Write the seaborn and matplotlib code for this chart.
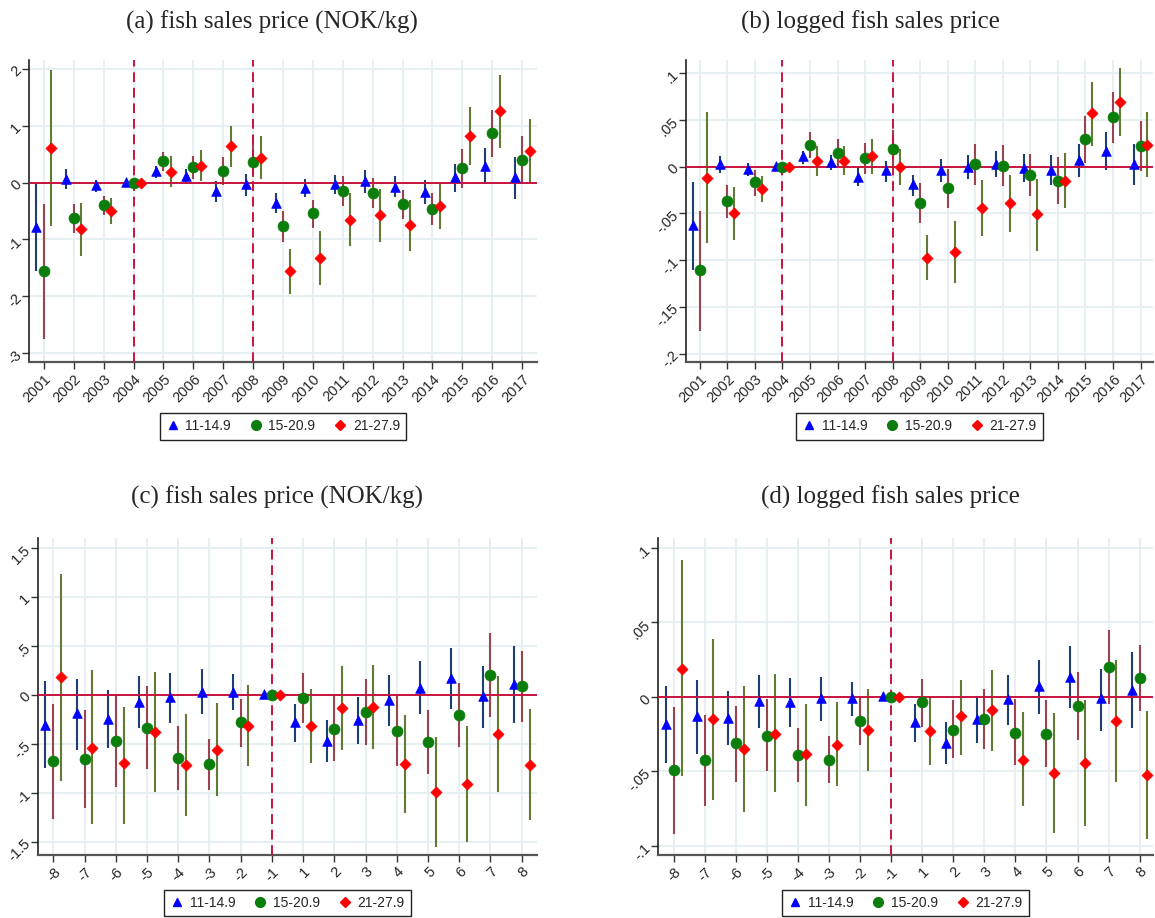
import numpy as np
import pandas as pd
import seaborn as sns
import matplotlib
matplotlib.use("Agg")
import matplotlib.pyplot as plt
from matplotlib.lines import Line2D

nan = np.nan

# ---------------- data ----------------
years = list(range(2001, 2018))
event_labels = ["-8", "-7", "-6", "-5", "-4", "-3", "-2", "-1", "1", "2", "3", "4", "5", "6", "7", "8"]
series_names = ["11-14.9", "15-20.9", "21-27.9"]

# (a) fish sales price (NOK/kg), by year
a_tri = [-0.78, 0.07, -0.05, 0.01, 0.20, 0.11, -0.15, -0.03, -0.36, -0.09, -0.02, 0.03, -0.08, -0.16, 0.09, 0.29, 0.09]
a_tri_lo = [-1.55, -0.12, -0.16, nan, 0.08, -0.02, -0.34, -0.23, -0.53, -0.26, -0.21, -0.18, -0.26, -0.37, -0.16, -0.02, -0.29]
a_tri_hi = [-0.03, 0.23, 0.05, nan, 0.29, 0.24, 0.03, 0.15, -0.19, 0.07, 0.14, 0.22, 0.11, 0.05, 0.32, 0.61, 0.45]
a_cir = [-1.55, -0.63, -0.40, 0.0, 0.37, 0.27, 0.20, 0.36, -0.77, -0.54, -0.15, -0.18, -0.38, -0.46, 0.25, 0.87, 0.40]
a_cir_lo = [-2.74, -0.88, -0.57, nan, 0.20, 0.07, -0.04, 0.10, -1.04, -0.79, -0.42, -0.44, -0.64, -0.74, -0.09, 0.45, -0.02]
a_cir_hi = [-0.37, -0.38, -0.23, nan, 0.54, 0.47, 0.45, 0.67, -0.50, -0.30, 0.11, 0.08, -0.13, -0.18, 0.58, 1.28, 0.82]
a_dia = [0.60, -0.82, -0.50, 0.0, 0.19, 0.29, 0.64, 0.43, -1.56, -1.32, -0.65, -0.57, -0.75, -0.41, 0.82, 1.25, 0.55]
a_dia_lo = [-0.77, -1.29, -0.72, nan, -0.08, 0.03, 0.27, 0.06, -1.96, -1.79, -1.11, -1.04, -1.20, -0.82, 0.31, 0.61, -0.02]
a_dia_hi = [1.97, -0.36, -0.27, nan, 0.46, 0.57, 1.00, 0.81, -1.17, -0.85, -0.19, -0.12, -0.31, 0.00, 1.32, 1.88, 1.11]

# (b) logged fish sales price, by year
b_tri = [-0.063, 0.003, -0.0025, 0.0007, 0.011, 0.005, -0.011, -0.004, -0.019, -0.004, 0.0, 0.003, -0.001, -0.0036, 0.007, 0.017, 0.0025]
b_tri_lo = [-0.111, -0.007, -0.010, nan, 0.003, -0.004, -0.021, -0.016, -0.031, -0.017, -0.013, -0.011, -0.016, -0.020, -0.011, -0.0036, -0.020]
b_tri_hi = [-0.016, 0.011, 0.004, nan, 0.017, 0.012, 0.0, 0.006, -0.009, 0.008, 0.0125, 0.017, 0.0136, 0.0125, 0.024, 0.037, 0.024]
b_cir = [-0.111, -0.037, -0.017, 0.0, 0.023, 0.015, 0.009, 0.019, -0.039, -0.023, 0.0025, 0.001, -0.009, -0.015, 0.029, 0.053, 0.022]
b_cir_lo = [-0.176, -0.055, -0.031, nan, 0.009, 0.0, -0.008, 0.0, -0.060, -0.044, -0.020, -0.021, -0.031, -0.040, 0.0036, 0.025, -0.005]
b_cir_hi = [-0.047, -0.020, -0.004, nan, 0.037, 0.030, 0.025, 0.039, -0.018, -0.0025, 0.024, 0.023, 0.0136, 0.010, 0.054, 0.080, 0.049]
b_dia = [-0.012, -0.050, -0.024, 0.0, 0.006, 0.006, 0.011, 0.0, -0.098, -0.091, -0.044, -0.039, -0.051, -0.015, 0.057, 0.069, 0.023]
b_dia_lo = [-0.082, -0.079, -0.038, nan, -0.010, -0.009, -0.008, -0.020, -0.121, -0.124, -0.074, -0.070, -0.090, -0.044, 0.022, 0.033, -0.011]
b_dia_hi = [0.058, -0.022, -0.010, nan, 0.022, 0.022, 0.030, 0.019, -0.073, -0.058, -0.014, -0.009, -0.0136, 0.014, 0.091, 0.105, 0.058]

# (c) fish sales price (NOK/kg), event time
c_tri = [-0.31, -0.19, -0.245, -0.075, -0.024, 0.027, 0.027, 0.005, -0.28, -0.47, -0.255, -0.058, 0.071, 0.173, -0.017, 0.105]
c_tri_lo = [-0.75, -0.56, -0.54, -0.34, -0.29, -0.20, -0.16, nan, -0.48, -0.69, -0.50, -0.323, -0.20, -0.143, -0.34, -0.29]
c_tri_hi = [0.14, 0.16, 0.044, 0.19, 0.22, 0.26, 0.21, nan, -0.09, -0.255, -0.024, 0.197, 0.34, 0.48, 0.296, 0.497]
c_cir = [-0.68, -0.66, -0.47, -0.34, -0.65, -0.71, -0.28, 0.0, -0.034, -0.35, -0.177, -0.37, -0.486, -0.204, 0.204, 0.088]
c_cir_lo = [-1.27, -1.16, -0.94, -0.76, -0.97, -0.97, -0.53, nan, -0.29, -0.68, -0.517, -0.73, -0.81, -0.534, -0.228, -0.28]
c_cir_hi = [-0.09, -0.16, 0.0, 0.085, -0.32, -0.45, -0.04, nan, 0.22, 0.0, 0.163, 0.0, -0.16, 0.12, 0.633, 0.45]
c_dia = [0.18, -0.54, -0.70, -0.38, -0.72, -0.56, -0.32, 0.0, -0.32, -0.136, -0.126, -0.71, -0.99, -0.915, -0.40, -0.714]
c_dia_lo = [-0.88, -1.32, -1.32, -0.99, -1.24, -1.03, -0.73, nan, -0.70, -0.56, -0.554, -1.21, -1.55, -1.50, -0.99, -1.28]
c_dia_hi = [1.23, 0.25, -0.13, 0.23, -0.20, -0.085, 0.095, nan, 0.054, 0.29, 0.306, -0.21, -0.43, -0.323, 0.194, -0.143]

# (d) logged fish sales price, event time
d_tri = [-0.018, -0.013, -0.014, -0.003, -0.0034, -0.001, -0.001, 0.0007, -0.017, -0.031, -0.015, -0.0016, 0.007, 0.0134, -0.001, 0.0045]
d_tri_lo = [-0.044, -0.038, -0.032, -0.021, -0.020, -0.016, -0.013, nan, -0.030, -0.045, -0.031, -0.019, -0.0116, -0.0074, -0.023, -0.021]
d_tri_hi = [0.007, 0.0116, 0.004, 0.0145, 0.0127, 0.013, 0.010, nan, -0.0045, -0.017, 0.0005, 0.0145, 0.025, 0.034, 0.019, 0.030]
d_cir = [-0.049, -0.042, -0.031, -0.026, -0.039, -0.042, -0.016, 0.0, -0.0034, -0.022, -0.015, -0.024, -0.025, -0.006, 0.020, 0.0125]
d_cir_lo = [-0.092, -0.073, -0.057, -0.050, -0.057, -0.058, -0.032, nan, -0.020, -0.041, -0.035, -0.046, -0.047, -0.029, -0.0045, -0.0096]
d_cir_hi = [-0.0067, -0.012, -0.006, -0.0016, -0.021, -0.026, 0.0, nan, 0.012, -0.002, 0.005, -0.0016, -0.002, 0.0165, 0.045, 0.0346]
d_dia = [0.019, -0.015, -0.035, -0.025, -0.038, -0.032, -0.022, 0.0, -0.023, -0.013, -0.009, -0.042, -0.051, -0.044, -0.016, -0.0525]
d_dia_lo = [-0.053, -0.069, -0.077, -0.064, -0.073, -0.060, -0.050, nan, -0.046, -0.039, -0.036, -0.073, -0.091, -0.0865, -0.057, -0.095]
d_dia_hi = [0.092, 0.039, 0.007, 0.015, -0.0045, -0.0034, 0.005, nan, 0.0, 0.0116, 0.018, -0.010, -0.011, -0.0018, 0.0246, -0.0096]

a_yticks = [2, 1, 0, -1, -2, -3]
a_ylabels = ["2", "1", "0", "-1", "-2", "-3"]
b_yticks = [0.1, 0.05, 0, -0.05, -0.1, -0.15, -0.2]
b_ylabels = [".1", ".05", "0", "-.05", "-.1", "-.15", "-.2"]
c_yticks = [1.5, 1, 0.5, 0, -0.5, -1, -1.5]
c_ylabels = ["1.5", "1", ".5", "0", "-.5", "-1", "-1.5"]
d_yticks = [0.1, 0.05, 0, -0.05, -0.1]
d_ylabels = [".1", ".05", "0", "-.05", "-.1"]

titles = ["(a) fish sales price (NOK/kg)", "(b) logged fish sales price",
          "(c) fish sales price (NOK/kg)", "(d) logged fish sales price"]

# ---------------- style ----------------
sns.set_theme(style="white")
plt.rcParams["font.family"] = ["Liberation Sans", "DejaVu Sans"]

mk_colors = ["#0000ff", "#0a7d0a", "#ff0000"]
ci_colors = ["#1d3f73", "#9a4450", "#617a35"]
markers = ["^", "o", "D"]
msizes = [48, 62, 32]
offsets = [-0.25, 0.0, 0.25]
crimson = "#c8143f"
grid_c = "#e4eef0"

W, H = 1155, 918
fig = plt.figure(figsize=(W / 100, H / 100), dpi=100)

ax_pos = [
    [29 / W, 1 - 362 / H, (537 - 29) / W, 302 / H],
    [686 / W, 1 - 362 / H, (1153 - 686) / W, 302 / H],
    [38 / W, 1 - 855 / H, (537 - 38) / W, 317 / H],
    [658 / W, 1 - 855 / H, (1153 - 658) / W, 317 / H],
]
title_xy = [(272, 22), (870, 22), (277, 497), (890, 497)]


def draw_panel(ax, xs, xlabels, series, yticks, ylabels, ylim, xlim, vlines, leg_y):
    rows = []
    for k, (v, lo, hi) in enumerate(series):
        for i in range(len(xs)):
            rows.append(dict(x=xs[i] + offsets[k], est=v[i], lo=lo[i], hi=hi[i],
                             group=series_names[k]))
    df = pd.DataFrame(rows)

    ax.grid(True, color=grid_c, linewidth=1.3, zorder=0)
    ax.set_axisbelow(True)
    for k, name in enumerate(series_names):
        sub = df[df.group == name].dropna(subset=["lo", "hi"])
        ax.vlines(sub.x, sub.lo, sub.hi, color=ci_colors[k], linewidth=1.5, zorder=2)
    ax.axhline(0, color=crimson, linewidth=1.4, zorder=3)
    for xv in vlines:
        ax.axvline(xv, color=crimson, linewidth=1.4, linestyle=(0, (5, 3)), zorder=3)
    for k, name in enumerate(series_names):
        sub = df[df.group == name]
        sns.scatterplot(data=sub, x="x", y="est", ax=ax, marker=markers[k],
                        color=mk_colors[k], edgecolor=mk_colors[k], linewidth=0.5,
                        s=msizes[k], zorder=4, legend=False)
    ax.set_xlim(*xlim)
    ax.set_ylim(*ylim)
    ax.set_xticks(xs)
    ax.set_xticklabels(xlabels, rotation=45, ha="right", rotation_mode="anchor", fontsize=10.5)
    ax.set_yticks(yticks)
    ax.set_yticklabels(ylabels, rotation=45, ha="right", va="center", rotation_mode="anchor", fontsize=10.5)
    ax.tick_params(axis="both", which="both", direction="out", length=5, width=1,
                   color="#333333", pad=2, bottom=True, left=True)
    ax.set_xlabel("")
    ax.set_ylabel("")
    for s in ["top", "right"]:
        ax.spines[s].set_visible(False)
    ax.spines["left"].set_color("#222222")
    ax.spines["bottom"].set_color("#555555")
    ax.spines["left"].set_linewidth(1.2)
    ax.spines["bottom"].set_linewidth(1.6)

    handles = [Line2D([], [], linestyle="none", marker=markers[k], color=mk_colors[k],
                      markersize=[6, 7, 5.5][k]) for k in range(3)]
    leg = ax.legend(handles, series_names, loc="upper center", bbox_to_anchor=(0.5, leg_y),
                    borderaxespad=0, ncol=3, frameon=True, fancybox=False, framealpha=1,
                    edgecolor="#222222", fontsize=10, handletextpad=0.4, columnspacing=1.3,
                    borderpad=0.45, handlelength=1.0)
    leg.get_frame().set_linewidth(1.0)


xs_year = years
xs_event = list(range(len(event_labels)))

ax_a = fig.add_axes(ax_pos[0])
draw_panel(ax_a, xs_year, [str(y) for y in years],
           [(a_tri, a_tri_lo, a_tri_hi), (a_cir, a_cir_lo, a_cir_hi), (a_dia, a_dia_lo, a_dia_hi)],
           a_yticks, a_ylabels, (-3.15, 2.15), (2000.5, 2017.5), [2004, 2008], -0.169)

ax_b = fig.add_axes(ax_pos[1])
draw_panel(ax_b, xs_year, [str(y) for y in years],
           [(b_tri, b_tri_lo, b_tri_hi), (b_cir, b_cir_lo, b_cir_hi), (b_dia, b_dia_lo, b_dia_hi)],
           b_yticks, b_ylabels, (-0.209, 0.114), (2000.5, 2017.45), [2004, 2008], -0.169)

ax_c = fig.add_axes(ax_pos[2])
draw_panel(ax_c, xs_event, event_labels,
           [(c_tri, c_tri_lo, c_tri_hi), (c_cir, c_cir_lo, c_cir_hi), (c_dia, c_dia_lo, c_dia_hi)],
           c_yticks, c_ylabels, (-1.636, 1.6), (-0.49, 15.49), [7], -0.110)

ax_d = fig.add_axes(ax_pos[3])
draw_panel(ax_d, xs_event, event_labels,
           [(d_tri, d_tri_lo, d_tri_hi), (d_cir, d_cir_lo, d_cir_hi), (d_dia, d_dia_lo, d_dia_hi)],
           d_yticks, d_ylabels, (-0.106, 0.1065), (-0.51, 15.43), [7], -0.110)

for (tx, ty), t in zip(title_xy, titles):
    fig.text(tx / W, 1 - ty / H, t, ha="center", va="center",
             family=["Liberation Serif", "DejaVu Serif"], fontsize=18)

fig.savefig("out.png", dpi=100)
